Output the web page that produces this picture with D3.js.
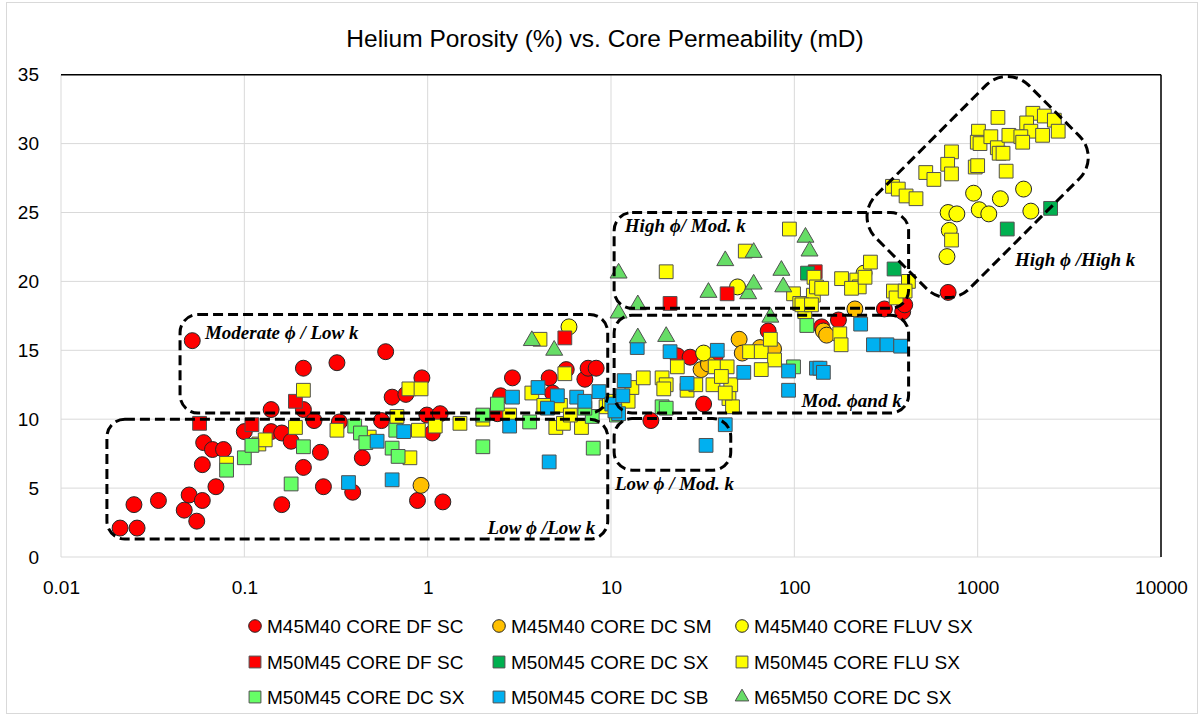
<!DOCTYPE html>
<html>
<head>
<meta charset="utf-8">
<script src="https://cdn.jsdelivr.net/npm/d3@7"></script>
<style>
  body { margin: 0; background: #fff; }
  svg { display: block; font-family: "Liberation Sans", Arial, sans-serif; }
  .grid line { stroke: #d9d9d9; stroke-width: 1; }
  .tick text { fill: #000; }
  .box { fill: none; stroke: #000; stroke-width: 3; stroke-dasharray: 10 5; }
  .box-label { font-family: "Liberation Serif", "Times New Roman", serif; font-weight: bold; font-style: italic; font-size: 19px; }
</style>
</head>
<body>
<svg width="1202" height="717"></svg>
<script>
// data: [permeability (mD), helium porosity (%)]
const dfScCircles = [[0.021,2.1],[0.026,2.1],[0.025,3.8],[0.034,4.1],[0.047,3.4],[0.05,4.5],[0.055,2.6],[0.059,4.1],[0.07,5.1],[0.059,6.7],[0.06,8.3],[0.067,7.8],[0.077,7.8],[0.052,15.7],[0.10,9.1],[0.14,9.1],[0.16,9.0],[0.18,8.4],[0.14,10.7],[0.21,13.7],[0.21,10.7],[0.24,9.9],[0.21,6.5],[0.26,7.6],[0.16,3.8],[0.27,5.1],[0.32,14.1],[0.33,9.8],[0.44,7.2],[0.39,4.7],[0.59,14.9],[0.64,11.6],[0.76,11.8],[0.56,9.9],[0.93,13.0],[0.88,4.1],[0.99,10.3],[1.17,10.4],[1.06,9.0],[1.21,4.0],[2.4,10.4],[2.5,11.7],[2.9,13.0],[4.6,13.0],[4.8,11.9],[5.7,13.6],[7.2,12.9],[7.5,13.7],[8.3,13.7],[16.5,9.9],[32,11.1],[23,14.6],[27,14.5],[37,14.6],[72,16.4],[141,16.7],[174,17.2],[310,18.0],[390,17.8],[400,18.3],[690,19.2]];
const dcSmCircles = [[0.92,5.2],[31,13.6],[34,14.0],[50,15.8],[52,14.8],[65,15.2],[77,15.1],[144,16.4],[150,16.1],[214,18.0]];
const fluvSxCircles = [[5.9,16.7],[32,14.8],[49,19.6],[240,20.6],[950,26.4],[1330,26.0],[1780,26.7],[690,25.0],[770,24.9],[1020,25.2],[1150,24.9],[1950,25.1],[700,23.7],[680,21.8]];
const dfScSquares = [[0.057,9.7],[0.11,9.6],[0.19,11.3],[5.6,15.9],[21,18.4],[43,19.1],[130,20.7]];
const dcSxDarkSquares = [[118,20.6],[350,20.9],[1450,23.8],[2500,25.3]];
const fluSxSquares = [[0.08,6.8],[0.12,8.2],[0.13,8.5],[0.19,9.4],[0.21,12.1],[0.32,9.2],[0.48,8.7],[0.68,10.2],[0.79,12.2],[0.92,12.2],[0.80,7.2],[0.89,9.2],[1.1,9.5],[1.5,9.7],[2.0,10.0],[2.8,10.3],[3.7,11.9],[4.1,15.8],[5.6,13.3],[5.0,9.4],[5.5,9.7],[6.9,9.4],[4.3,11.0],[5.3,11.0],[6.0,10.3],[9.4,10.9],[9.8,11.3],
  [12.4,11.3],[13,12.3],[15,13.0],[19,13.0],[20,12.5],[19.4,12.2],[23,13.8],[26,12.1],[29,12.5],[36,12.5],[45,12.5],[37,13.8],[43,13.8],[40,13.1],[44,11.5],[46,10.9],[42,11.9],[57,14.9],[66,14.9],[74,15.8],[78,14.3],[66,13.6],[99,19.1],[107,18.4],[114,17.8],[127,19.0],[94,23.8],[54,22.2],[20,20.7],[128,20.3],[132,19.6],[110,18.3],[124,18.3],[260,21.4],[181,20.2],[219,20.1],[226,19.6],[205,19.5],[243,20.3],[141,19.5],[347,19.3],[359,18.8],[419,20.0],[402,19.3],[177,16.2],[180,15.4],
  [1290,31.9],[2000,32.2],[2310,32.0],[2620,31.7],[2750,30.9],[1850,31.5],[1950,30.9],[1010,30.9],[995,30.1],[1030,30.0],[1180,30.5],[1280,29.7],[1310,29.3],[1480,30.6],[1720,30.5],[1760,30.1],[2260,30.6],[1375,29.3],[1430,28.0],[970,28.3],[1000,28.4],[720,29.4],[686,28.5],[720,27.8],[521,27.9],[577,27.4],[343,26.9],[369,26.7],[407,26.2],[461,26.0],[720,23.0]];
const dcSxLightSquares = [[0.08,6.3],[0.10,7.2],[0.11,8.1],[0.18,5.3],[0.21,8.0],[0.40,9.5],[0.43,9.0],[0.46,8.3],[0.64,7.9],[0.69,7.3],[0.67,9.2],[2.0,8.0],[8.0,7.9],[2.4,11.1],[3.6,9.8],[2.0,10.3],[7.9,10.2],[7.2,10.8],[10.7,10.3],[19,10.9],[20,10.8],[117,16.8],[99,13.8]];
const dcSbSquares = [[0.37,5.4],[0.53,8.4],[0.64,5.6],[0.74,9.1],[2.8,9.5],[4.6,6.9],[2.9,11.6],[4.0,12.3],[5.1,11.7],[4.5,10.8],[6.5,11.6],[7.2,11.3],[8.6,12.0],[10.1,11.1],[11.6,11.7],[11,10.4],[11.8,12.8],[10.5,10.6],[13.9,15.2],[21,14.9],[26,12.6],[38,15.0],[42,9.6],[33,8.1],[53,13.4],[93,13.5],[93,12.1],[132,13.7],[230,16.9],[270,15.4],[320,15.4],[380,15.3],[138,13.7],[144,13.4]];
const m65Triangles = [[3.7,15.7],[4.9,15.0],[11,17.7],[14,18.3],[34,19.2],[56,19.1],[60,19.8],[87,19.6],[14,15.9],[20,16.0],[74,17.4],[11,20.6],[42,21.5],[60,22.1],[85,20.8],[115,23.2],[121,22.2]];

const seriesNames = ["M45M40 CORE DF SC","M45M40 CORE DC SM","M45M40 CORE FLUV SX","M50M45 CORE DF SC","M50M45 CORE DC SX","M50M45 CORE FLU SX","M50M45 CORE DC SX","M50M45 CORE DC SB","M65M50 CORE DC SX"];
const seriesData = [dfScCircles, dcSmCircles, fluvSxCircles, dfScSquares, dcSxDarkSquares, fluSxSquares, dcSxLightSquares, dcSbSquares, m65Triangles];
const seriesShapes = ["circle","circle","circle","square","square","square","square","square","triangle"];
const seriesColors = ["#ff0000","#ffc000","#ffff00","#ff0000","#00b050","#ffff00","#66ff66","#00b0f0","#66dd66"];

const xTicks = [0.01, 0.1, 1, 10, 100, 1000, 10000];
const yTicks = [0, 5, 10, 15, 20, 25, 30, 35];

// zones, in data units
const zones = [
  {k0: 0.0446, k1: 9.6, p0: 10.45, p1: 17.6},
  {k0: 0.0178, k1: 9.6, p0: 1.3, p1: 10.0},
  {k0: 10.4, k1: 45, p0: 6.3, p1: 10.05},
  {k0: 10.4, k1: 420, p0: 10.45, p1: 17.55},
  {k0: 10.4, k1: 420, p0: 18.05, p1: 25.0}
];
const zoneLabels = [
  {text: "Moderate \u03d5 / Low k", k: 0.061, p: 16.3, anchor: "start"},
  {text: "Low \u03d5 /Low k", k: 8.2, p: 2.15, anchor: "end"},
  {text: "Low \u03d5 / Mod. k", k: 10.5, p: 5.35, anchor: "start"},
  {text: "Mod. \u03d5and k", k: 385, p: 11.4, anchor: "end"},
  {text: "High \u03d5/ Mod. k", k: 11.9, p: 24.05, anchor: "start"},
  {text: "High \u03d5 /High k", k: 1600, p: 21.6, anchor: "start"}
];
const tiltedZone = {k: 1000, p: 26.85};

const svg = d3.select("svg");
const plotLeft = 61, plotRight = 1161, plotTop = 74.7, plotBottom = 557;

const x = d3.scaleLog().domain([0.01, 10000]).range([plotLeft, plotRight]);
const y = d3.scaleLinear().domain([0, 35]).range([plotBottom, plotTop]);

// chart border
svg.append("rect").attr("x", 6.5).attr("y", 2.5).attr("width", 1191).attr("height", 711)
  .attr("fill", "none").attr("stroke", "#d9d9d9");

// title
svg.append("text").attr("x", 605).attr("y", 47).attr("text-anchor", "middle")
  .style("font-size", "24.5px").text("Helium Porosity (%) vs. Core Permeability (mD)");

// grid
const grid = svg.append("g").attr("class", "grid");
grid.selectAll(".gx").data(xTicks).enter().append("line")
  .attr("x1", d => x(d)).attr("x2", d => x(d)).attr("y1", plotTop).attr("y2", plotBottom);
grid.selectAll(".gy").data(yTicks).enter().append("line")
  .attr("x1", plotLeft).attr("x2", plotRight).attr("y1", d => y(d)).attr("y2", d => y(d));

// plot frame: dark top and right edges
svg.append("line").attr("x1", plotLeft).attr("x2", plotRight).attr("y1", plotTop).attr("y2", plotTop).attr("stroke", "#000").attr("stroke-width", 1.5);
svg.append("line").attr("x1", plotRight).attr("x2", plotRight).attr("y1", plotTop).attr("y2", plotBottom).attr("stroke", "#000").attr("stroke-width", 1.5);

// axes
const xAxis = svg.append("g").attr("transform", `translate(0,${plotBottom})`)
  .call(d3.axisBottom(x).tickValues(xTicks).tickFormat(d3.format("~g")).tickSize(0).tickPadding(24));
const yAxis = svg.append("g").attr("transform", `translate(${plotLeft},0)`)
  .call(d3.axisLeft(y).tickValues(yTicks).tickSize(0).tickPadding(22));
[xAxis, yAxis].forEach(a => {
  a.select(".domain").remove();
  a.selectAll("text").style("font-size", "19px").style("font-family", "Liberation Sans, Arial, sans-serif");
});

const symbolType = {circle: d3.symbolCircle, square: d3.symbolSquare, triangle: d3.symbolTriangle};
const plotSize = {circle: 200, square: 190, triangle: 125};
const legendSize = {circle: 125, square: 140, triangle: 80};

// points
seriesData.forEach((pts, i) => {
  const shape = seriesShapes[i];
  svg.append("g").selectAll("path").data(pts).enter().append("path")
    .attr("d", d3.symbol().type(symbolType[shape]).size(plotSize[shape]))
    .attr("transform", d => `translate(${x(d[0])},${y(d[1])})`)
    .attr("fill", seriesColors[i])
    .attr("stroke", shape === "circle" ? "#262626" : "#505050")
    .attr("stroke-width", 1);
});

// zones
svg.append("g").selectAll("rect").data(zones).enter().append("rect")
  .attr("class", "box")
  .attr("x", d => x(d.k0)).attr("y", d => y(d.p1))
  .attr("width", d => x(d.k1) - x(d.k0)).attr("height", d => y(d.p0) - y(d.p1))
  .attr("rx", 18).attr("ry", 18);

svg.append("rect").attr("class", "box")
  .attr("x", -108).attr("y", -66).attr("width", 216).attr("height", 132)
  .attr("rx", 30).attr("ry", 30)
  .attr("transform", `translate(${x(tiltedZone.k)},${y(tiltedZone.p)}) rotate(-45)`);

svg.append("g").selectAll("text").data(zoneLabels).enter().append("text")
  .attr("class", "box-label")
  .attr("x", d => x(d.k)).attr("y", d => y(d.p)).attr("dy", "0.35em")
  .attr("text-anchor", d => d.anchor)
  .text(d => d.text);

// legend
const legendCols = [255, 499, 742];
const legendRows = [626, 662, 697];
const legend = svg.append("g").selectAll("g").data(seriesNames).enter().append("g")
  .attr("transform", (d, i) => `translate(${legendCols[i % 3]},${legendRows[Math.floor(i / 3)]})`);
legend.append("path")
  .attr("d", (d, i) => d3.symbol().type(symbolType[seriesShapes[i]]).size(legendSize[seriesShapes[i]])())
  .attr("fill", (d, i) => seriesColors[i])
  .attr("stroke", (d, i) => seriesShapes[i] === "circle" ? "#262626" : "#505050");
legend.append("text").attr("x", 12).attr("dy", "0.35em")
  .style("font-size", "19px").text(d => d);
</script>
</body>
</html>
